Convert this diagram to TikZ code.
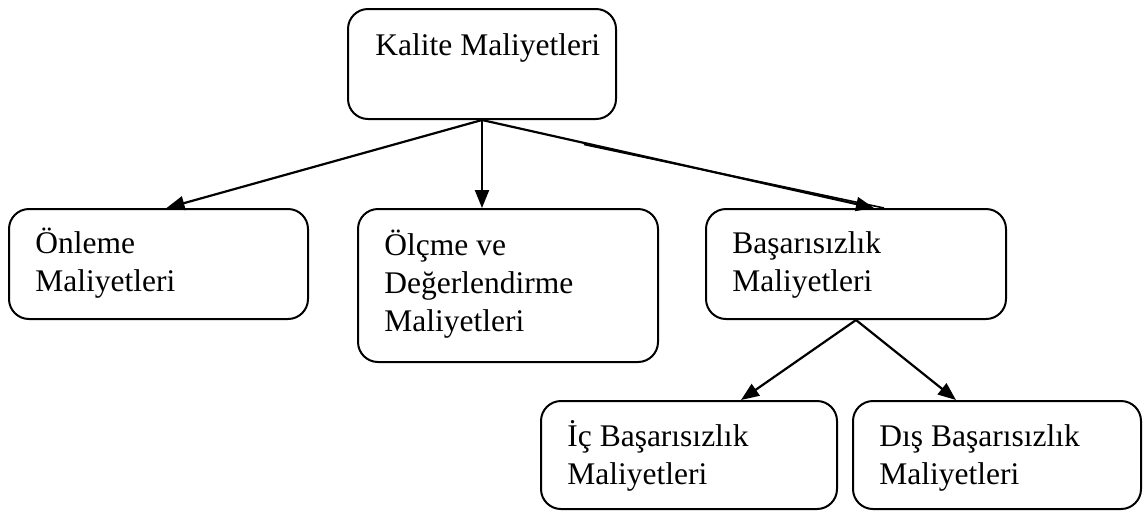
\documentclass[tikz,border=0pt]{standalone}
\usepackage{fontspec}
\setmainfont{Liberation Serif}
\usetikzlibrary{calc,arrows.meta}

\tikzset{
  x=0.5pt, y=-0.5pt,
  box/.style={draw, line width=1pt, rounded corners=10pt, inner sep=0pt,
    anchor=north west},
  lbl/.style={inner sep=0pt, anchor=base west,
    font=\fontsize{15.75pt}{19pt}\selectfont},
  conn/.style={line width=1.1pt, -{Triangle[length=9pt,width=7pt]}},
}
\newcommand{\boxtext}[1]{\parbox[t]{140pt}{\raggedright #1}}

\begin{document}
\begin{tikzpicture}
\useasboundingbox (0,0) rectangle (1145,511);

% boxes
\node[box, minimum width=134pt, minimum height=55pt] (k) at (347,8) {};
\node[box, minimum width=149.5pt, minimum height=55pt] (o) at (8,208) {};
\node[box, minimum width=150pt, minimum height=76.5pt] (m) at (357,208) {};
\node[box, minimum width=150pt, minimum height=55pt] (b) at (705,208) {};
\node[box, minimum width=148pt, minimum height=54pt] (ic) at (540,400) {};
\node[box, minimum width=144pt, minimum height=54pt] (dis) at (852,400) {};

% labels
\node[lbl] (kt) at ($(k.north west)+(28,47)$) {\boxtext{Kalite Maliyetleri}};
\node[lbl] (ot) at ($(o.north west)+(27,45)$) {\boxtext{Önleme\\Maliyetleri}};
\node[lbl] (mt) at ($(m.north west)+(27,47)$) {\boxtext{Ölçme ve\\Değerlendirme\\Maliyetleri}};
\node[lbl] (bt) at ($(b.north west)+(27,45)$) {\boxtext{Başarısızlık\\Maliyetleri}};
\node[lbl] (ict) at ($(ic.north west)+(27,46)$) {\boxtext{İç Başarısızlık\\Maliyetleri}};
\node[lbl] (dist) at ($(dis.north west)+(27,46)$) {\boxtext{Dış Başarısızlık\\Maliyetleri}};

% connectors
\coordinate (ko) at ($(o.north)+(8,0)$);
\coordinate (kb) at ($(b.north)+(18,0)$);
\coordinate (kb2) at ($(b.north)+(28,0)$);
\coordinate (kb1) at ($(k.south)!0.26!(kb)$);
\draw[conn] (k.south) -- (ko);
\draw[conn] (k.south) -- (k.south |- m.north);
\draw[conn] (k.south) -- (kb);
\draw[line width=0.8pt] ([yshift=-0.8pt]kb1) -- (kb2);
\coordinate (bs) at (b.south);
\draw[conn] (bs) -- ($(ic.north)+(52,0)$);
\draw[conn] (bs) -- ($(dis.north)+(-41,0)$);
\end{tikzpicture}
\end{document}
